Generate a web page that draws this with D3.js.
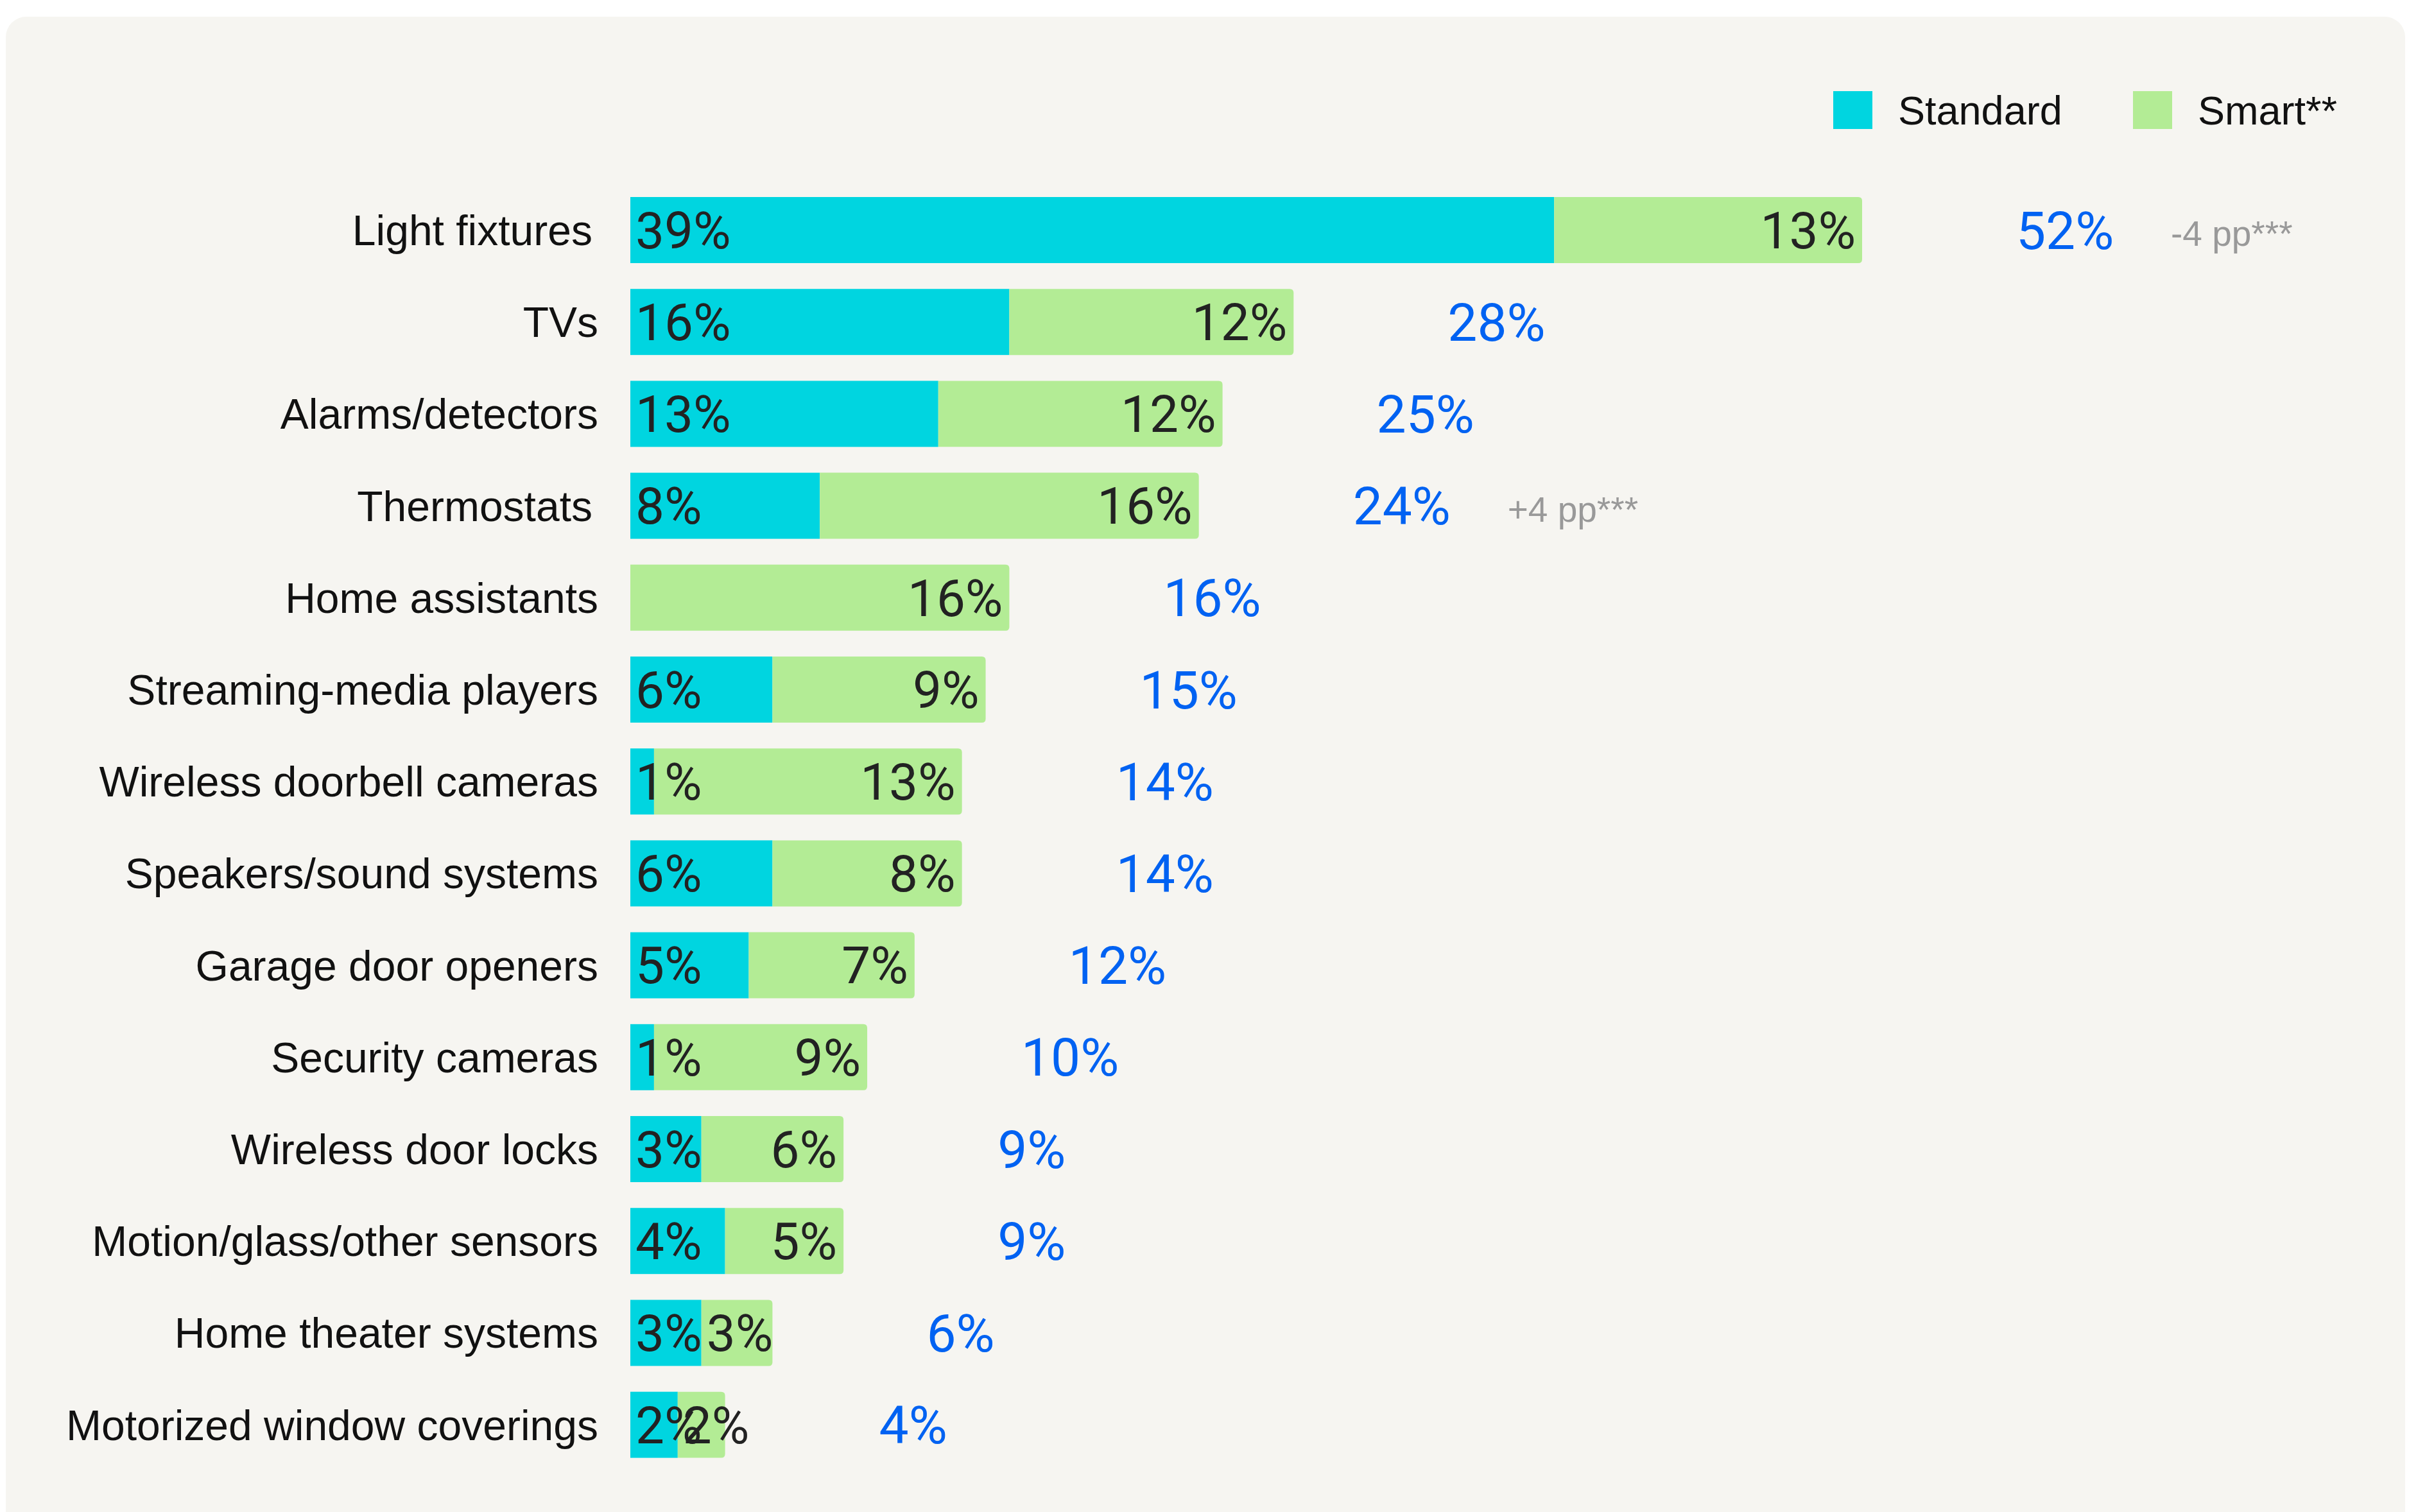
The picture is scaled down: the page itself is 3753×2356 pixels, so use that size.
<!DOCTYPE html>
<html>
<head>
<meta charset="utf-8">
<script src="https://cdn.jsdelivr.net/npm/d3@7"></script>
<style>
  html, body { margin: 0; padding: 0; background: #ffffff; }
  svg { display: block; }
</style>
</head>
<body>
<svg id="chart" width="3753" height="2356"></svg>
<script>
// ---------- data ----------
const categories = [
  "Light fixtures", "TVs", "Alarms/detectors", "Thermostats", "Home assistants",
  "Streaming-media players", "Wireless doorbell cameras", "Speakers/sound systems",
  "Garage door openers", "Security cameras", "Wireless door locks",
  "Motion/glass/other sensors", "Home theater systems", "Motorized window coverings"
];
const standardValues = [39, 16, 13, 8, 0, 6, 1, 6, 5, 1, 3, 4, 3, 2];
const smartValues    = [13, 12, 12, 16, 16, 9, 13, 8, 7, 9, 6, 5, 3, 2];
const totalValues    = [52, 28, 25, 24, 16, 15, 14, 14, 12, 10, 9, 9, 6, 4];
const notes          = ["-4 pp***", "", "", "+4 pp***", "", "", "", "", "", "", "", "", "", ""];
const seriesNames    = ["Standard", "Smart**"];

// ---------- style ----------
const colStandard = "#00D5E0";
const colSmart = "#B3EC95";
const colTotal = "#0062F2";
const colNote = "#999999";
const colPanel = "#F6F5F1";
const numFont = "Roboto, 'Liberation Sans', Arial, sans-serif";
const txtFont = "'Liberation Sans', Arial, sans-serif";

const svg = d3.select("#chart");

// panel
svg.append("rect")
  .attr("x", 9).attr("y", 26)
  .attr("width", 3738).attr("height", 2360)
  .attr("rx", 32).attr("ry", 32)
  .attr("fill", colPanel);

const rows = categories.map((c, i) => ({
  cat: c, std: standardValues[i], smart: smartValues[i], total: totalValues[i], note: notes[i]
}));

const x = d3.scaleLinear().domain([0, 52]).range([982, 2901]);
const y = d3.scaleBand().domain(categories).range([307, 2271.6]).paddingInner(0.281).paddingOuter(0);
const bh = y.bandwidth();

const g = svg.append("g");

const row = g.selectAll("g.row").data(rows).join("g").attr("class", "row")
  .attr("transform", d => `translate(0,${y(d.cat)})`);

// standard segment
row.filter(d => d.std > 0).append("rect")
  .attr("x", x(0))
  .attr("y", 0)
  .attr("width", d => x(d.std) - x(0))
  .attr("height", bh)
  .attr("fill", colStandard);

// smart segment with rounded right corners
const r = 6;
row.append("path")
  .attr("d", d => {
    const x0 = x(d.std), x1 = x(d.std + d.smart);
    return `M${x0},0 H${x1 - r} Q${x1},0 ${x1},${r} V${bh - r} Q${x1},${bh} ${x1 - r},${bh} H${x0} Z`;
  })
  .attr("fill", colSmart);

// category labels
row.append("text")
  .attr("x", d => d.note ? 923 : 932)
  .attr("y", bh / 2)
  .attr("dy", "0.355em")
  .attr("text-anchor", "end")
  .attr("font-family", txtFont)
  .attr("font-size", 66)
  .attr("fill", "#111111")
  .text(d => d.cat);

// standard value labels
row.filter(d => d.std > 0).append("text")
  .attr("x", x(0) + 8)
  .attr("y", bh / 2)
  .attr("dy", "0.355em")
  .attr("font-family", numFont)
  .attr("font-size", 80)
  .attr("fill", "#222222")
  .text(d => d.std + "%");

// smart value labels
row.append("text")
  .attr("y", bh / 2)
  .attr("dy", "0.355em")
  .attr("font-family", numFont)
  .attr("font-size", 80)
  .attr("fill", "#222222")
  .text(d => d.smart + "%")
  .each(function(d) {
    const w = this.getComputedTextLength();
    const segStart = x(d.std) + 8;
    const endX = x(d.std + d.smart) - 10;
    if (endX - w < segStart) {
      d3.select(this).attr("x", segStart).attr("text-anchor", "start");
    } else {
      d3.select(this).attr("x", endX).attr("text-anchor", "end");
    }
  });

// total labels
row.append("text")
  .attr("x", d => x(d.total) + 240)
  .attr("y", bh / 2)
  .attr("dy", "0.355em")
  .attr("font-family", numFont)
  .attr("font-size", 82)
  .attr("fill", colTotal)
  .text(d => d.total + "%");

// notes
row.filter(d => d.note).append("text")
  .attr("x", d => x(d.total) + 481)
  .attr("y", bh / 2)
  .attr("dy", "0.45em")
  .attr("font-family", txtFont)
  .attr("font-size", 55)
  .attr("fill", colNote)
  .text(d => d.note);

// legend
const legendX = [2856, 3323];
const legendColors = [colStandard, colSmart];
const lg = svg.append("g");
seriesNames.forEach((name, i) => {
  lg.append("rect")
    .attr("x", legendX[i]).attr("y", 142)
    .attr("width", 61).attr("height", 59)
    .attr("fill", legendColors[i]);
  lg.append("text")
    .attr("x", legendX[i] + 101).attr("y", 194)
    .attr("font-family", txtFont)
    .attr("font-size", 63)
    .attr("fill", "#111111")
    .text(name);
});
</script>
</body>
</html>
